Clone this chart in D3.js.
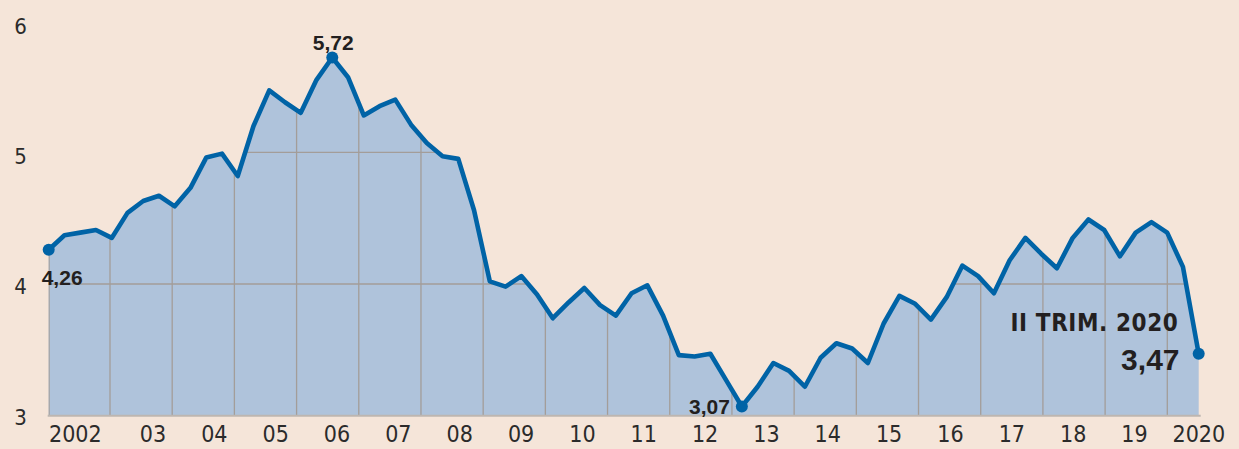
<!DOCTYPE html>
<html>
<head>
<meta charset="utf-8">
<script src="https://cdn.jsdelivr.net/npm/d3@7"></script>
<style>
  html, body { margin: 0; padding: 0; background: #f5e5d9; }
  svg { display: block; }
  .tick-label { font-family: "Liberation Sans Narrow", "DejaVu Sans Condensed", sans-serif; fill: #2b2b2b; }
  .note { font-family: "Liberation Sans", "DejaVu Sans", sans-serif; font-weight: bold; fill: #231f20; }
  .note-narrow { font-family: "Liberation Sans Narrow", "DejaVu Sans Condensed", sans-serif; font-weight: bold; fill: #231f20; }
</style>
</head>
<body>
<svg id="chart"></svg>
<script>
// quarterly values, I 2002 .. II 2020
var values = [4.26, 4.37, 4.39, 4.41,  4.35, 4.54, 4.63, 4.67,  4.59, 4.73, 4.96, 4.99,
              4.82, 5.20, 5.47, 5.38,  5.30, 5.55, 5.72, 5.57,  5.28, 5.35, 5.40, 5.21,
              5.07, 4.97, 4.95, 4.56,  4.02, 3.98, 4.06, 3.92,  3.74, 3.86, 3.97, 3.84,
              3.76, 3.93, 3.99, 3.76,  3.46, 3.45, 3.47, 3.27,  3.07, 3.22, 3.40, 3.34,
              3.22, 3.44, 3.55, 3.51,  3.40, 3.70, 3.91, 3.85,  3.73, 3.90, 4.14, 4.06,
              3.93, 4.18, 4.35, 4.23,  4.12, 4.35, 4.49, 4.41,  4.21, 4.39, 4.47, 4.39,
              4.13, 3.47];
var years = [2002, 2003, 2004, 2005, 2006, 2007, 2008, 2009, 2010, 2011,
             2012, 2013, 2014, 2015, 2016, 2017, 2018, 2019, 2020];
var yearLabels = ["2002", "03", "04", "05", "06", "07", "08", "09", "10", "11",
                  "12", "13", "14", "15", "16", "17", "18", "19", "2020"];
var yTicks = [3, 4, 5, 6];
var highlights = [0, 18, 44, 73];   // indexes of the marked points
var lastLabel = "II TRIM. 2020";

var svgWidth = 1239, svgHeight = 449;
var data = values.map(function (v, i) { return { i: i, v: v }; });

var svg = d3.select("#chart").attr("width", svgWidth).attr("height", svgHeight);
svg.append("rect").attr("width", svgWidth).attr("height", svgHeight).attr("fill", "#f5e5d9");

// scales
var x = d3.scaleLinear().domain([0, values.length - 1]).range([48.7, 1198.7]);
var y = d3.scaleLinear().domain([3, 6]).range([415.7, 20.6]);
var yearX = d3.scaleLinear().domain([2003, 2020]).range([110, 1167.3]);     // year separators
var labelX = d3.scaleLinear().domain([2003, 2019]).range([153, 1134.5]);    // year labels

var area = d3.area().x(function (d) { return x(d.i); }).y0(y(3)).y1(function (d) { return y(d.v); });
var line = d3.line().x(function (d) { return x(d.i); }).y(function (d) { return y(d.v); });

svg.append("clipPath").attr("id", "areaClip")
    .append("path").attr("d", area(data));

svg.append("path").attr("d", area(data)).attr("fill", "#afc3db");

// grid inside the area only
var grid = svg.append("g").attr("clip-path", "url(#areaClip)");
grid.selectAll(".vline")
    .data(years.slice(1))
    .enter().append("line")
    .attr("x1", function (d) { return yearX(d); })
    .attr("x2", function (d) { return yearX(d); })
    .attr("y1", y(6)).attr("y2", y(3))
    .attr("stroke", "#a39d99").attr("stroke-width", 1.3);
grid.selectAll(".hline")
    .data([4, 5, 6])
    .enter().append("line")
    .attr("x1", x(0)).attr("x2", x(values.length - 1))
    .attr("y1", function (d) { return y(d); })
    .attr("y2", function (d) { return y(d); })
    .attr("stroke", "#a39d99").attr("stroke-width", 1.3);
grid.append("line")
    .attr("x1", x(0)).attr("x2", x(0)).attr("y1", y(6)).attr("y2", y(3))
    .attr("stroke", "#a39d99").attr("stroke-width", 2);

// baseline
svg.append("line")
    .attr("x1", x(0) - 1).attr("x2", x(values.length - 1) + 2)
    .attr("y1", y(3)).attr("y2", y(3))
    .attr("stroke", "#bdb6b1").attr("stroke-width", 2);

svg.append("path").attr("d", line(data))
    .attr("fill", "none").attr("stroke", "#0063a6")
    .attr("stroke-width", 4.6).attr("stroke-linejoin", "round").attr("stroke-linecap", "round");

svg.selectAll(".dot")
    .data(highlights)
    .enter().append("circle")
    .attr("cx", function (d) { return x(d); })
    .attr("cy", function (d) { return y(values[d]); })
    .attr("r", 6).attr("fill", "#0063a6");

// y labels
svg.selectAll(".ylab")
    .data(yTicks)
    .enter().append("text")
    .attr("class", "tick-label")
    .attr("x", 20.5)
    .attr("y", function (d) { return y(d) + 9 + (d - 3) * 1.3; })
    .attr("text-anchor", "middle")
    .style("font-size", "22px")
    .text(function (d) { return d; });

// x labels
svg.selectAll(".xlab")
    .data(years)
    .enter().append("text")
    .attr("class", "tick-label")
    .attr("x", function (d, i) { return i === 0 ? labelX(d) + 10 : labelX(d) + (d === 2020 ? 3 : 0); })
    .attr("y", 442)
    .attr("text-anchor", function (d, i) { return i === 0 ? "end" : "middle"; })
    .style("font-size", "23px")
    .text(function (d, i) { return yearLabels[i]; });

// annotations
var fmt = function (v) { return d3.format(".2f")(v).replace(".", ","); };
svg.append("text").attr("class", "note")
    .attr("x", x(0) - 7).attr("y", 285)
    .style("font-size", "21px").text(fmt(values[0]));
svg.append("text").attr("class", "note")
    .attr("x", x(18) + 1).attr("y", 49.5).attr("text-anchor", "middle")
    .style("font-size", "21px").text(fmt(values[18]));
svg.append("text").attr("class", "note")
    .attr("x", x(44) - 12).attr("y", 413.5).attr("text-anchor", "end")
    .style("font-size", "21px").text(fmt(values[44]));
svg.append("text").attr("class", "note-narrow")
    .attr("x", 1178.5).attr("y", 331).attr("text-anchor", "end")
    .style("font-size", "24px").style("letter-spacing", "0.6px").text(lastLabel);
svg.append("text").attr("class", "note")
    .attr("x", 1179.5).attr("y", 369.5).attr("text-anchor", "end")
    .style("font-size", "30px").text(fmt(values[73]));
</script>
</body>
</html>
